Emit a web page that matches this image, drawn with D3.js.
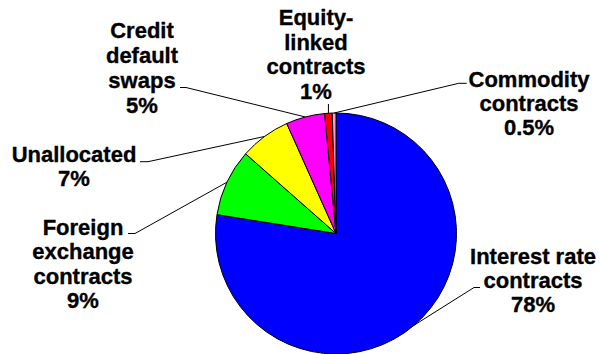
<!DOCTYPE html>
<html>
<head>
<meta charset="utf-8">
<script src="https://cdn.jsdelivr.net/npm/d3@7"></script>
<style>
  body { margin: 0; background: #fff; }
  svg text { font-family: "Liberation Sans", Arial, sans-serif; font-weight: bold; font-size: 22px;
             fill: #000; stroke: #000; stroke-width: 0.35px; }
</style>
</head>
<body>
<div id="chart"></div>
<script>
// data
const categories = ["Interest rate contracts", "Foreign exchange contracts", "Unallocated",
                    "Credit default swaps", "Equity-linked contracts", "Commodity contracts"];
const values = [77.5, 9.0, 6.8, 5.2, 1.0, 0.5];
const pctLabels = ["78%", "9%", "7%", "5%", "1%", "0.5%"];
const labelLines = [
    ["Interest rate", "contracts"],
    ["Foreign", "exchange", "contracts"],
    ["Unallocated"],
    ["Credit", "default", "swaps"],
    ["Equity-", "linked", "contracts"],
    ["Commodity", "contracts"]
];
const colors = ["#0000FF", "#00FF00", "#FFFF00", "#FF00FF", "#FF0000", "#FF99CC"];

// label layout: text centre x, first baseline y, leader line start & stub
const labelLayout = [
    {x: 533, y: 263.5, lh: 24.2, lead: [480, 287.5], stub: -6},
    {x: 83,  y: 235,   lh: 24.3, lead: [128, 233.5], stub: 7},
    {x: 74,  y: 161.7, lh: 24.3, lead: [140, 161.7], stub: 8},
    {x: 142, y: 37.7,  lh: 25.2, lead: [180, 87.5],  stub: 6},
    {x: 316, y: 25,    lh: 24.5, lead: [null, 104],  stub: 0},
    {x: 529, y: 87.3,  lh: 24.0, lead: [466.7, 83.3], stub: -8}
];

const width = 601, height = 354;
const cx = 336, cy = 233.5, radius = 120.5;

const svg = d3.select("#chart").append("svg")
    .attr("width", width)
    .attr("height", height);

const pie = d3.pie().sort(null).value(d => d)(values);
const arc = d3.arc().innerRadius(0).outerRadius(radius);

const g = svg.append("g").attr("transform", `translate(${cx},${cy})`);

g.selectAll("path.slice")
    .data(pie)
    .enter().append("path")
    .attr("class", "slice")
    .attr("d", arc)
    .attr("fill", (d, i) => colors[i])
    .attr("stroke", "#000")
    .attr("stroke-width", 1);

// leader lines
pie.forEach((d, i) => {
    const mid = (d.startAngle + d.endAngle) / 2;
    const px = cx + radius * Math.sin(mid);
    const py = cy - radius * Math.cos(mid);
    const L = labelLayout[i];
    let pts;
    if (L.lead[0] === null) {
        pts = [[px, L.lead[1]], [px, py]];
    } else {
        pts = [L.lead, [L.lead[0] + L.stub, L.lead[1]], [px, py]];
    }
    svg.append("path")
        .attr("d", d3.line()(pts))
        .attr("fill", "none")
        .attr("stroke", "#000")
        .attr("stroke-width", 1);
});

// labels
labelLines.forEach((lines, i) => {
    const L = labelLayout[i];
    const t = svg.append("text")
        .attr("text-anchor", "middle");
    lines.concat([pctLabels[i]]).forEach((s, j) => {
        t.append("tspan")
            .attr("x", L.x)
            .attr("y", L.y + j * L.lh)
            .text(s);
    });
});
</script>
</body>
</html>
